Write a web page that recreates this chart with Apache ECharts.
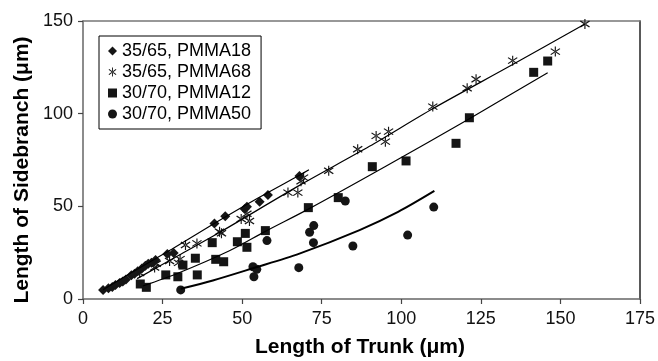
<!DOCTYPE html>
<html>
<head>
<meta charset="utf-8">
<script src="https://cdn.jsdelivr.net/npm/echarts@6/dist/echarts.min.js"></script>
<style>html,body{margin:0;padding:0;background:#fff;}#c{width:658px;height:361px;}</style>
</head>
<body>
<div id="c"></div>
<script>
// ---- data ----
var seriesNames = ['35/65, PMMA18', '35/65, PMMA68', '30/70, PMMA12', '30/70, PMMA50'];
var xTicks = [0, 25, 50, 75, 100, 125, 150, 175];
var yTicks = [0, 50, 100, 150];
var xTitle = 'Length of Trunk (\u03bcm)';
var yTitle = 'Length of Sidebranch (\u03bcm)';

var pmma18 = [[6.3,4.9],[8.0,5.8],[9.2,6.5],[10.2,7.5],[11.5,8.6],[12.5,9.5],[13.5,10.5],[15.2,12.8],[16.2,13.6],[17.2,15.0],[18.5,16.5],[19.6,18.0],[20.5,19.0],[21.5,19.6],[22.8,21.0],[26.5,24.3],[28.5,24.8],[41.3,40.8],[44.7,44.6],[50.8,48.5],[51.5,49.8],[55.5,52.5],[58.1,56.1],[68.0,66.4]];
var pmma68 = [[17.8,14.0],[22.5,17.0],[23.0,19.0],[27.2,20.5],[30.0,19.5],[30.5,21.5],[32.2,29.1],[35.8,30.0],[42.9,36.3],[43.5,35.5],[49.7,43.2],[52.3,42.1],[51.5,46.0],[64.4,57.4],[67.5,57.4],[69.3,65.5],[68.5,63.5],[77.2,69.2],[86.3,80.8],[92.1,88.0],[95.0,84.9],[96.0,90.3],[109.9,103.8],[120.7,113.7],[123.5,118.6],[135.0,128.6],[148.4,133.5],[157.7,148.4]];
var pmma12 = [[18.0,8.1],[19.9,6.3],[26.0,13.0],[29.8,12.0],[31.4,18.3],[35.3,22.0],[35.9,13.0],[40.6,30.4],[41.7,21.4],[44.2,20.1],[48.5,30.9],[51.0,35.4],[51.5,27.9],[57.3,36.9],[70.8,49.3],[80.2,54.7],[90.9,71.4],[101.5,74.5],[117.2,84.0],[121.4,97.8],[141.6,122.3],[146.0,128.4]];
var pmma50 = [[30.7,4.9],[53.4,17.4],[54.6,16.0],[53.7,12.0],[57.8,31.5],[67.8,16.9],[71.2,36.0],[72.5,39.6],[72.4,30.4],[82.4,52.9],[84.8,28.6],[102.0,34.5],[110.2,49.6]];

// fitted trend lines
var fit18 = [[6.3,5.0],[15,14],[28,27],[42,41.5],[55,54.5],[68,66.8],[71,69.7]];
var fit68 = [[17,11],[30,23.5],[43,36],[68,61.3],[90,82.4],[110,102.8],[135,126.5],[157.7,148.4]];
var fit12 = [[18.8,7.0],[30,14],[46,26],[57.3,36.5],[70.8,48.5],[95,71.5],[121.4,97.3],[146,122.1]];
var fit50 = [[30.7,5.5],[40.8,10],[53.4,16.6],[68,24.5],[86.9,37.2],[99,47],[110.4,58.3]];

// ---- chart ----
var FONT = '"Liberation Sans", Arial, Helvetica, sans-serif';
var MK = '#151515';
var asterisk = 'path://M9,0L11,0L11,20L9,20Z M1.3,4.9L17.3,16.9L18.7,15.1L2.7,3.1Z M2.7,16.9L18.7,4.9L17.3,3.1L1.3,15.1Z';

function scatter(name, data, symbol, size) {
  return {
    name: name, type: 'scatter', data: data, symbol: symbol, symbolSize: size,
    itemStyle: { color: MK, opacity: 1 }, z: 3, emphasis: { disabled: true }
  };
}
function fit(data, w) {
  return {
    type: 'line', data: data, smooth: 0.3, showSymbol: false, silent: true,
    lineStyle: { color: '#000', width: w }, z: 4
  };
}

var chart = echarts.init(document.getElementById('c'), null, { renderer: 'canvas' });
chart.setOption({
  animation: false,
  backgroundColor: '#fff',
  grid: { left: 83, right: 17, top: 21, bottom: 62, containLabel: false },
  legend: {
    orient: 'vertical', left: 99, top: 36,
    data: seriesNames,
    itemWidth: 9, itemHeight: 9, itemGap: 3,
    padding: [6, 10, 6, 9],
    borderColor: '#000', borderWidth: 1, backgroundColor: '#fff',
    textStyle: { fontFamily: FONT, fontSize: 18, color: '#000', lineHeight: 18 },
    selectedMode: false
  },
  xAxis: [{
    type: 'value', min: 0, max: 175, interval: 25,
    axisLine: { show: true, lineStyle: { color: '#666', width: 1.5 } },
    axisTick: { show: true, inside: false, length: 5, lineStyle: { color: '#444', width: 1.2 } },
    axisLabel: { fontFamily: FONT, fontSize: 18, color: '#111', margin: 11,
      formatter: function (v) { return xTicks.indexOf(v) >= 0 ? String(v) : ''; } },
    splitLine: { show: false }
  }, {
    type: 'value', min: 0, max: 175, position: 'top',
    axisLine: { show: true, onZero: false, lineStyle: { color: '#777', width: 1.5 } },
    axisTick: { show: false }, axisLabel: { show: false }, splitLine: { show: false }
  }],
  yAxis: [{
    type: 'value', min: 0, max: 150, interval: 50,
    axisLine: { show: true, lineStyle: { color: '#666', width: 1.5 } },
    axisTick: { show: true, inside: false, length: 5, lineStyle: { color: '#444', width: 1.2 } },
    axisLabel: { fontFamily: FONT, fontSize: 18, color: '#111', margin: 10,
      formatter: function (v) { return yTicks.indexOf(v) >= 0 ? String(v) : ''; } },
    splitLine: { show: false }
  }, {
    type: 'value', min: 0, max: 150, position: 'right',
    axisLine: { show: true, onZero: false, lineStyle: { color: '#222', width: 1.5 } },
    axisTick: { show: false }, axisLabel: { show: false }, splitLine: { show: false }
  }],
  graphic: [{
    type: 'text', x: 22, y: 170, rotation: Math.PI / 2,
    style: { text: yTitle, fontFamily: FONT, fontWeight: 'bold', fontSize: 21, fill: '#000',
      textAlign: 'center', textVerticalAlign: 'middle' }
  }, {
    type: 'text', x: 360, y: 347,
    style: { text: xTitle, fontFamily: FONT, fontWeight: 'bold', fontSize: 21, fill: '#000',
      textAlign: 'center', textVerticalAlign: 'middle' }
  }],
  series: [
    scatter(seriesNames[0], pmma18, 'diamond', 10),
    scatter(seriesNames[1], pmma68, asterisk, 10),
    scatter(seriesNames[2], pmma12, 'rect', 9),
    scatter(seriesNames[3], pmma50, 'circle', 9),
    fit(fit18, 1.2),
    fit(fit68, 1.2),
    fit(fit12, 1.2),
    fit(fit50, 2)
  ]
});
</script>
</body>
</html>
